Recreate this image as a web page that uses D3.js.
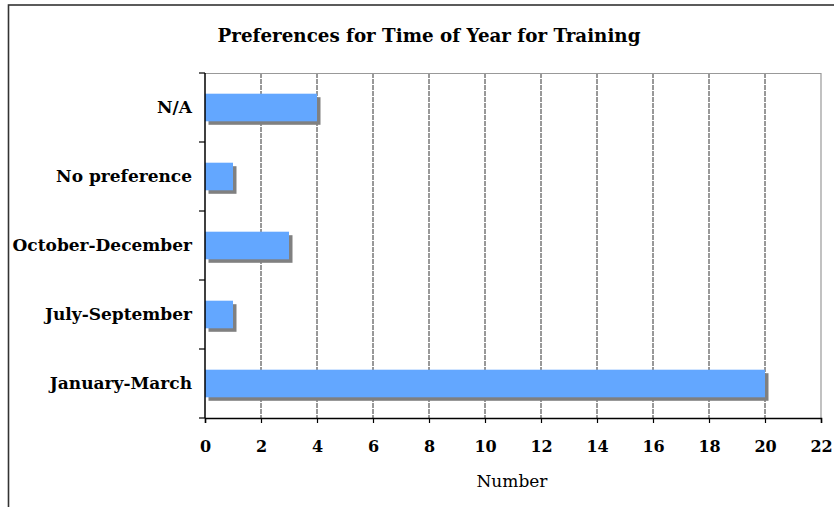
<!DOCTYPE html>
<html>
<head>
<meta charset="utf-8">
<script src="https://cdn.jsdelivr.net/npm/d3@7"></script>
<style>
  body { margin: 0; background: #fff; }
  text { font-family: "DejaVu Serif", "Liberation Serif", serif; }
</style>
</head>
<body>
<div id="graph"></div>
<script>
// data
let categories = ["N/A", "No preference", "October-December", "July-September", "January-March"];
let counts = [4, 1, 3, 1, 20];
let xTicks = [0, 2, 4, 6, 8, 10, 12, 14, 16, 18, 20, 22];

let width = 834, height = 507;
let margin = {left: 205, top: 73, right: 13, bottom: 89};

let svg = d3.select("#graph")
    .append("svg")
    .attr("width", width)
    .attr("height", height);

// outer frame (only top and left show in the picture)
svg.append("rect")
    .attr("x", 8.5).attr("y", 5)
    .attr("width", width).attr("height", height)
    .attr("fill", "none")
    .attr("stroke", "#333")
    .attr("stroke-width", 1.6);

let x = d3.scaleLinear()
    .domain([0, 22])
    .range([margin.left, width - margin.right]);

let y = d3.scaleBand()
    .domain(categories)
    .range([margin.top, height - margin.bottom])
    .paddingInner(0.6)
    .paddingOuter(0.3);

let plotTop = margin.top, plotBottom = height - margin.bottom;

// gridlines
svg.append("g")
    .selectAll("line")
    .data(xTicks.slice(1, -1))
    .enter()
    .append("line")
    .attr("x1", d => x(d)).attr("x2", d => x(d))
    .attr("y1", plotTop).attr("y2", plotBottom)
    .attr("stroke", "#333")
    .attr("stroke-dasharray", "5,1");

// plot frame top and right
svg.append("path")
    .attr("d", `M${x(0)},${plotTop + 0.5}H${x(22)}V${plotBottom}`)
    .attr("fill", "none")
    .attr("stroke", "#999")
    .attr("stroke-width", 1.2);

// bars with drop shadow
let bars = svg.append("g");
bars.selectAll("rect.shadow")
    .data(counts)
    .enter()
    .append("rect")
    .attr("class", "shadow")
    .attr("x", x(0) + 3.5)
    .attr("y", (d, i) => y(categories[i]) + 3.5)
    .attr("width", d => x(d) - x(0))
    .attr("height", y.bandwidth())
    .attr("fill", "#808080");

bars.selectAll("rect.bar")
    .data(counts)
    .enter()
    .append("rect")
    .attr("class", "bar")
    .attr("x", x(0))
    .attr("y", (d, i) => y(categories[i]))
    .attr("width", d => x(d) - x(0))
    .attr("height", y.bandwidth())
    .attr("fill", "#63a7ff");

// x axis
let xAxis = svg.append("g")
    .attr("transform", `translate(0,${plotBottom})`)
    .call(d3.axisBottom(x).tickValues(xTicks).tickSize(5).tickPadding(18).tickFormat(d3.format("d")));
xAxis.select(".domain").attr("stroke", "#000").attr("stroke-width", 1.5);
xAxis.selectAll(".tick line").attr("stroke", "#000").attr("stroke-width", 1.2);
xAxis.selectAll(".tick text")
    .attr("fill", "#000")
    .style("font-size", "16px")
    .style("font-weight", "bold");

// y axis: ticks sit on the category boundaries
let yEdges = d3.range(categories.length + 1).map(i => plotTop + i * (plotBottom - plotTop) / categories.length);
svg.append("line")
    .attr("x1", x(0)).attr("x2", x(0))
    .attr("y1", plotTop).attr("y2", plotBottom)
    .attr("stroke", "#000").attr("stroke-width", 1.5);
svg.append("g")
    .selectAll("line")
    .data(yEdges)
    .enter()
    .append("line")
    .attr("x1", x(0) - 6).attr("x2", x(0))
    .attr("y1", d => d).attr("y2", d => d)
    .attr("stroke", "#000").attr("stroke-width", 1.2);

svg.append("g")
    .selectAll("text")
    .data(categories)
    .enter()
    .append("text")
    .attr("x", 192)
    .attr("y", d => y(d) + y.bandwidth() / 2)
    .attr("dy", "0.35em")
    .style("text-anchor", "end")
    .style("font-size", "17px")
    .style("font-weight", "bold")
    .text(d => d);

svg.append("text")
    .attr("x", 429).attr("y", 42)
    .style("text-anchor", "middle")
    .style("font-size", "18.3px")
    .style("font-weight", "bold")
    .text("Preferences for Time of Year for Training");

svg.append("text")
    .attr("x", 512).attr("y", 487)
    .style("text-anchor", "middle")
    .style("font-size", "17px")
    .text("Number");
</script>
</body>
</html>
